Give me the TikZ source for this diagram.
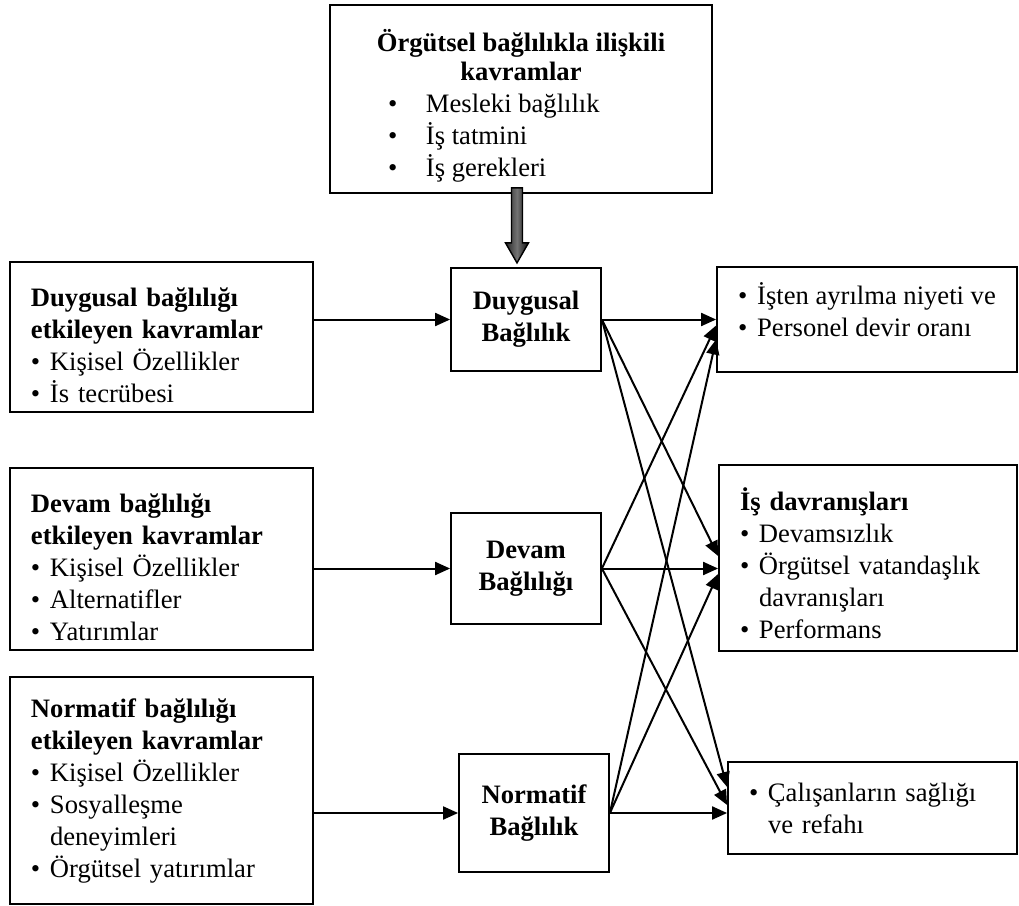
\documentclass[tikz,border=0pt]{standalone}
\usepackage{fontspec}
\setmainfont{Liberation Serif}
\usetikzlibrary{arrows.meta, positioning, calc}
\newcommand{\bul}{\makebox[9.5pt][l]{•}}
\newcommand{\nobul}{\hspace*{9.5pt}}
\newcommand{\topbul}[1]{\makebox[133pt][l]{\makebox[19pt][l]{•}#1}}
\newcommand{\padtop}[1]{\rule{0pt}{#1}}
\newcommand{\padbot}[1]{\rule[-#1]{0pt}{0.5pt}}

\begin{document}
\begin{tikzpicture}[
  x=0.5pt, y=-0.5pt,
  font=\fontsize{13.3}{16}\selectfont,
  box/.style={draw, line width=0.9pt, align=left, inner xsep=10.5pt, inner ysep=0pt},
  cbox/.style={draw, line width=0.9pt, align=center, inner sep=0pt},
  bbox/.style={cbox, font=\fontsize{13.3}{16}\selectfont\bfseries, minimum width=75pt},
  arrow/.style={-{Triangle[length=7.5pt, width=6.5pt]}, line width=1pt}
]
\useasboundingbox (0,0) rectangle (1019,906);

% --- Top box ---
\node[cbox, minimum width=191pt, minimum height=94pt] (iliskili) at (521,99)
{\padtop{17.7pt}\textbf{Örgütsel bağlılıkla ilişkili}\\[-1.5pt]
\textbf{kavramlar}\\
\topbul{Mesleki bağlılık}\\
\topbul{İş tatmini}\\
\topbul{İş gerekleri}};

% --- Left column ---
\node[box, text width=130.5pt, minimum height=75pt] (duygusalEtki) at (161.5,337)
{\padtop{18pt}\textbf{Duygusal bağlılığı}\\
\textbf{etkileyen kavramlar}\\
\bul Kişisel Özellikler\\
\bul İs tecrübesi};

\node[box, text width=130.5pt, minimum height=91pt] (devamEtki) at (161.5,559)
{\padtop{17.6pt}\textbf{Devam bağlılığı}\\
\textbf{etkileyen kavramlar}\\
\bul Kişisel Özellikler\\
\bul Alternatifler\\
\bul Yatırımlar};

\node[box, text width=130.5pt, minimum height=113.5pt] (normatifEtki) at (161.5,790.5)
{\textbf{Normatif bağlılığı}\\
\textbf{etkileyen kavramlar}\\
\bul Kişisel Özellikler\\
\bul Sosyalleşme\\
\nobul deneyimleri\\
\bul Örgütsel yatırımlar};

% --- Middle column ---
\node[bbox, minimum height=51.5pt] (duygusal) at (526,319.5) {Duygusal\\Bağlılık};
\node[bbox, minimum height=55.5pt] (devam) at (526,568.5) {Devam\\Bağlılığı};
\node[bbox, minimum height=59pt] (normatif) at (534,813) {Normatif\\Bağlılık};

% --- Right column ---
\node[box, inner xsep=0pt, minimum width=150pt, minimum height=52.5pt] (ayrilma) at (867,319.5)
{\bul İşten ayrılma niyeti ve\\
\bul Personel devir oranı\padbot{9.5pt}};

\node[box, text width=128pt, minimum height=93pt] (davranis) at (868,558)
{\padtop{16.8pt}\textbf{İş davranışları}\\
\bul Devamsızlık\\
\bul Örgütsel vatandaşlık\\
\nobul davranışları\\
\bul Performans};

\node[box, text width=123.5pt, minimum height=46pt] (saglik) at (872.5,808)
{\bul Çalışanların sağlığı\\
\nobul ve refahı};

% --- Block arrow ---
\shade[draw=black, line width=0.7pt, left color=black!85, right color=black!95, middle color=black!55]
  ([xshift=-4.75pt, yshift=3pt]iliskili.south) -- ++(0,-27.5pt) -- ++(-3pt,0)
  -- ++(5.75pt,-10pt) -- ++(5.75pt,10pt) -- ++(-3pt,0) -- ++(0,27.5pt) -- cycle;

% --- Arrows ---
\draw[arrow] (duygusalEtki.east |- duygusal.west) -- (duygusal.west);
\draw[arrow] (devamEtki.east |- devam.west) -- (devam.west);
\draw[arrow] (normatifEtki.east |- normatif.west) -- (normatif.west);

\draw[arrow] (duygusal.east) -- (duygusal.east -| ayrilma.west);
\draw[arrow] (duygusal.east) -- ([yshift=1pt]davranis.west);
\draw[arrow] (duygusal.east) -- ([yshift=10.5pt]saglik.west);
\draw[arrow] (devam.east) -- ([yshift=-3pt]ayrilma.west);
\draw[arrow] (devam.east) -- (devam.east -| davranis.west);
\draw[arrow] (devam.east) -- ([yshift=1.5pt]saglik.west);
\draw[arrow] (normatif.east) -- ([yshift=-10pt]ayrilma.west);
\draw[arrow] (normatif.east) -- ([yshift=-8pt]davranis.west);
\draw[arrow] (normatif.east) -- (normatif.east -| saglik.west);

\end{tikzpicture}
\end{document}
